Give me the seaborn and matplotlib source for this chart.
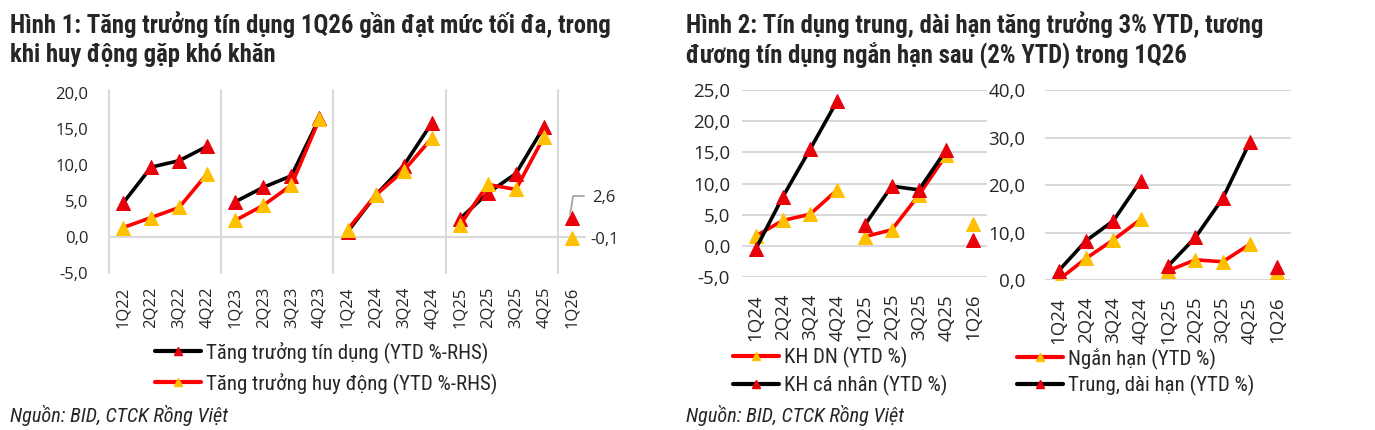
import matplotlib
matplotlib.use("Agg")
import matplotlib.pyplot as plt
import matplotlib.font_manager as fm
from matplotlib.lines import Line2D
import pandas as pd
import seaborn as sns

# ---- data ----
q_fig1 = ['1Q22', '2Q22', '3Q22', '4Q22', '1Q23', '2Q23', '3Q23', '4Q23',
          '1Q24', '2Q24', '3Q24', '4Q24', '1Q25', '2Q25', '3Q25', '4Q25', '1Q26']
credit = [4.7, 9.7, 10.6, 12.6, 4.9, 6.9, 8.5, 16.5, 0.7, 5.8, 9.9, 15.8, 2.5, 6.1, 8.8, 15.3, 2.6]
deposit = [1.3, 2.7, 4.1, 8.8, 2.3, 4.4, 7.2, 16.4, 1.0, 5.8, 9.2, 13.7, 1.6, 7.3, 6.6, 13.9, -0.1]

q_fig2 = ['1Q24', '2Q24', '3Q24', '4Q24', '1Q25', '2Q25', '3Q25', '4Q25', '1Q26']
kh_dn = [1.6, 4.1, 5.1, 9.0, 1.5, 2.6, 8.2, 14.6, 3.5]
kh_canhan = [-0.5, 7.9, 15.5, 23.3, 3.3, 9.6, 9.0, 15.4, 0.9]
ngan_han = [0.1, 4.6, 8.5, 12.8, 2.0, 4.3, 3.9, 7.6, 1.8]
trung_dai = [2.0, 8.3, 12.5, 20.9, 3.0, 9.0, 17.2, 29.1, 2.7]

title1 = ['Hình 1: Tăng trưởng tín dụng 1Q26 gần đạt mức tối đa, trong',
          'khi huy động gặp khó khăn']
title2 = ['Hình 2: Tín dụng trung, dài hạn tăng trưởng 3% YTD, tương',
          'đương tín dụng ngắn hạn sau (2% YTD) trong 1Q26']
source = 'Nguồn: BID, CTCK Rồng Việt'

# ---- style ----
sns.set_theme(style='white')
avail = {f.name for f in fm.fontManager.ttflist}


def pick(*names):
    for n in names:
        if n in avail:
            return n
    return 'DejaVu Sans'


COND = pick('Roboto Condensed', 'Liberation Sans Narrow', 'Open Sans Condensed', 'Liberation Sans')
TICK = pick('Open Sans', 'DejaVu Sans')
plt.rcParams['font.family'] = [TICK, 'DejaVu Sans']

BLACK = '#000000'
RED_L = '#FF0000'
RED_M = '#E8000B'
YEL_M = '#FFC000'
GRID = '#D9D9D9'

W, H = 1375, 430
fig = plt.figure(figsize=(W / 100, H / 100), dpi=100)


def px_axes(x0, y0, x1, y1):
    return fig.add_axes([x0 / W, 1 - y1 / H, (x1 - x0) / W, (y1 - y0) / H])


def frame(quarters, values):
    return pd.DataFrame({'pos': range(len(quarters)), 'val': values,
                         'yr': [q[-2:] for q in quarters]})


def draw(ax, quarters, values, line_c, mark_c):
    sns.lineplot(data=frame(quarters, values), x='pos', y='val', units='yr',
                 estimator=None, color=line_c, lw=2.6, marker='^', markersize=9.5,
                 markerfacecolor=mark_c, markeredgecolor=mark_c, ax=ax, legend=False)


def fmt(v):
    return f'{v:.1f}'.replace('.', ',')


def handle(line_c, mark_c):
    return Line2D([], [], color=line_c, lw=3, marker='^', markersize=6,
                  markerfacecolor=mark_c, markeredgecolor=mark_c)


# ---- figure 1 ----
ax1 = px_axes(109, 93, 586, 273)
draw(ax1, q_fig1, credit, BLACK, RED_M)
draw(ax1, q_fig1, deposit, RED_L, YEL_M)
ax1.set_xlim(-0.5, len(q_fig1) - 0.5)
ax1.set_ylim(-5, 20)
ax1.set_yticks(range(-5, 21, 5))
ax1.set_yticklabels([fmt(v) for v in range(-5, 21, 5)], fontsize=12)
ax1.set_xticks(range(len(q_fig1)))
ax1.set_xticklabels(q_fig1, rotation=90, fontsize=12)
ax1.tick_params(axis='y', length=0, pad=15)
ax1.tick_params(axis='x', length=0, pad=10)
for s in ax1.spines.values():
    s.set_visible(False)
ax1.axhline(0, color=GRID, lw=1.5, zorder=0)
for xv in [-0.5, 3.5, 7.5, 11.5, 15.5]:
    ax1.plot([xv, xv], [-5, 20.4], color=GRID, lw=1.5, zorder=0, clip_on=False)
ax1.set_xlabel('')
ax1.set_ylabel('')

# labels for last point
last = len(q_fig1) - 1
ax1.plot([last - 0.07, last + 0.04, last + 0.43],
         [credit[-1] + 0.45, credit[-1] + 3.1, credit[-1] + 3.1],
         color='#A6A6A6', lw=1.3, clip_on=False)
ax1.text(last + 0.72, credit[-1] + 2.75, fmt(credit[-1]), fontsize=12,
         va='center', ha='left')
ax1.text(last + 0.65, deposit[-1] - 0.3, fmt(deposit[-1]), fontsize=12,
         va='center', ha='left')

ax1.legend([handle(BLACK, RED_M), handle(RED_L, YEL_M)],
           ['Tăng trưởng tín dụng (YTD %-RHS)', 'Tăng trưởng huy động (YTD %-RHS)'],
           loc='center left', bbox_to_anchor=(155 / W, 1 - 367.5 / H),
           bbox_transform=fig.transFigure, frameon=False, borderpad=0,
           borderaxespad=0, handlelength=2.2, handletextpad=0.25,
           labelspacing=0.45, prop={'family': COND, 'size': 15})

# ---- figure 2 ----
ax2 = px_axes(742, 90, 987, 277.3)
draw(ax2, q_fig2, kh_dn, RED_L, YEL_M)
draw(ax2, q_fig2, kh_canhan, BLACK, RED_M)
ax2.set_ylim(-5, 25)
ax2.set_yticks(range(-5, 26, 5))
ax2.set_yticklabels([fmt(v) for v in range(-5, 26, 5)], fontsize=13.5)

ax3 = px_axes(1045, 90, 1291, 280.3)
draw(ax3, q_fig2, ngan_han, RED_L, YEL_M)
draw(ax3, q_fig2, trung_dai, BLACK, RED_M)
ax3.set_ylim(0, 40)
ax3.set_yticks(range(0, 41, 10))
ax3.set_yticklabels([fmt(v) for v in range(0, 41, 10)], fontsize=13.5)

for ax, ypad in [(ax2, 8.6), (ax3, 14)]:
    ax.set_xlim(-0.5, len(q_fig2) - 0.5)
    ax.set_xticks(range(len(q_fig2)))
    ax.set_xticklabels(q_fig2, rotation=90, fontsize=13.5)
    ax.tick_params(axis='y', length=0, pad=ypad)
    ax.tick_params(axis='x', length=0, pad=12)
    ax.yaxis.grid(True, color=GRID, lw=1.5)
    ax.set_axisbelow(True)
    for s in ax.spines.values():
        s.set_visible(False)
    ax.set_xlabel('')
    ax.set_ylabel('')

leg_kw = dict(bbox_transform=fig.transFigure, frameon=False, borderpad=0,
              borderaxespad=0, handlelength=2.2, handletextpad=0.25,
              labelspacing=0.3, prop={'family': COND, 'size': 15}, loc='center left')
ax2.legend([handle(RED_L, YEL_M), handle(BLACK, RED_M)],
           ['KH DN (YTD %)', 'KH cá nhân (YTD %)'],
           bbox_to_anchor=(733 / W, 1 - 371.5 / H), **leg_kw)
ax3.legend([handle(RED_L, YEL_M), handle(BLACK, RED_M)],
           ['Ngắn hạn (YTD %)', 'Trung, dài hạn (YTD %)'],
           bbox_to_anchor=(1017 / W, 1 - 371.5 / H), **leg_kw)

# ---- titles and sources ----
for x0, lines in [(10, title1), (686, title2)]:
    for i, t in enumerate(lines):
        fig.text(x0 / W, 1 - (25 + 30 * i) / H, t, family=COND, weight='bold',
                 fontsize=17.8, va='center', ha='left')
    fig.text(x0 / W, 1 - 415 / H, source, family=COND, style='italic',
             fontsize=14.6, va='center', ha='left')

fig.savefig('out.png', dpi=100)
